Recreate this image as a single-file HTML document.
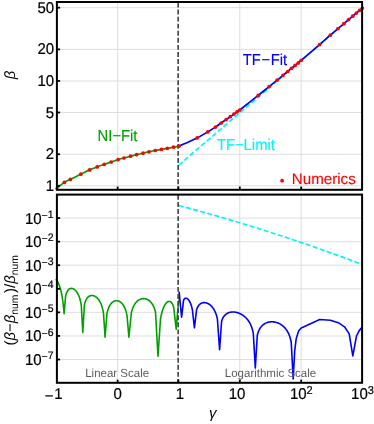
<!DOCTYPE html><html><head><meta charset="utf-8"><style>html,body{margin:0;padding:0;background:#fff}svg{display:block;will-change:transform;opacity:0.999}text{text-rendering:geometricPrecision;font-family:"Liberation Sans",sans-serif}</style></head><body><svg width="374" height="424" viewBox="0 0 374 424">
<rect width="374" height="424" fill="#fff"/>
<line x1="117.65" y1="2.0" x2="117.65" y2="189.8" stroke="#dadada" stroke-width="0.9"/>
<line x1="117.65" y1="194.6" x2="117.65" y2="382.8" stroke="#dadada" stroke-width="0.9"/>
<line x1="239.80" y1="2.0" x2="239.80" y2="189.8" stroke="#dadada" stroke-width="0.9"/>
<line x1="239.80" y1="194.6" x2="239.80" y2="382.8" stroke="#dadada" stroke-width="0.9"/>
<line x1="301.20" y1="2.0" x2="301.20" y2="189.8" stroke="#dadada" stroke-width="0.9"/>
<line x1="301.20" y1="194.6" x2="301.20" y2="382.8" stroke="#dadada" stroke-width="0.9"/>
<line x1="56.9" y1="185.80" x2="362.1" y2="185.80" stroke="#dadada" stroke-width="0.9"/>
<line x1="56.9" y1="154.24" x2="362.1" y2="154.24" stroke="#dadada" stroke-width="0.9"/>
<line x1="56.9" y1="112.51" x2="362.1" y2="112.51" stroke="#dadada" stroke-width="0.9"/>
<line x1="56.9" y1="80.95" x2="362.1" y2="80.95" stroke="#dadada" stroke-width="0.9"/>
<line x1="56.9" y1="49.39" x2="362.1" y2="49.39" stroke="#dadada" stroke-width="0.9"/>
<line x1="56.9" y1="7.66" x2="362.1" y2="7.66" stroke="#dadada" stroke-width="0.9"/>
<line x1="56.9" y1="359.51" x2="362.1" y2="359.51" stroke="#dadada" stroke-width="0.9"/>
<line x1="56.9" y1="335.94" x2="362.1" y2="335.94" stroke="#dadada" stroke-width="0.9"/>
<line x1="56.9" y1="312.37" x2="362.1" y2="312.37" stroke="#dadada" stroke-width="0.9"/>
<line x1="56.9" y1="288.80" x2="362.1" y2="288.80" stroke="#dadada" stroke-width="0.9"/>
<line x1="56.9" y1="265.23" x2="362.1" y2="265.23" stroke="#dadada" stroke-width="0.9"/>
<line x1="56.9" y1="241.66" x2="362.1" y2="241.66" stroke="#dadada" stroke-width="0.9"/>
<line x1="56.9" y1="218.09" x2="362.1" y2="218.09" stroke="#dadada" stroke-width="0.9"/>
<line x1="178.7" y1="165.1" x2="362.4" y2="8.0" stroke="#00f6fc" stroke-width="1.7" stroke-dasharray="5.0 2.375"/>
<path d="M56.90,188.10 C58.13,187.15 62.07,183.85 64.30,182.40 C66.53,180.95 67.55,180.77 70.30,179.40 C73.05,178.03 77.58,175.78 80.80,174.20 C84.02,172.62 86.87,171.12 89.60,169.90 C92.33,168.68 94.77,167.82 97.20,166.90 C99.63,165.98 101.88,165.22 104.20,164.40 C106.52,163.58 108.78,162.80 111.10,162.00 C113.42,161.20 115.97,160.27 118.10,159.60 C120.23,158.93 121.83,158.57 123.90,158.00 C125.97,157.43 128.38,156.75 130.50,156.20 C132.62,155.65 134.52,155.20 136.60,154.70 C138.68,154.20 140.93,153.68 143.00,153.20 C145.07,152.72 146.97,152.25 149.00,151.80 C151.03,151.35 153.13,150.90 155.20,150.50 C157.27,150.10 159.38,149.77 161.40,149.40 C163.42,149.03 165.28,148.67 167.30,148.30 C169.32,147.93 171.57,147.55 173.50,147.20 C175.43,146.85 178.00,146.37 178.90,146.20" fill="none" stroke="#00a000" stroke-width="1.7"/>
<path d="M178.90,146.20 C181.93,144.82 192.30,140.28 197.10,137.90 C201.90,135.52 204.65,133.70 207.70,131.90 C210.75,130.10 213.15,128.58 215.40,127.10 C217.65,125.62 219.40,124.25 221.20,123.00 C223.00,121.75 224.68,120.65 226.20,119.60 C227.72,118.55 229.02,117.62 230.30,116.70 C231.58,115.78 232.78,114.90 233.90,114.10 C235.02,113.30 236.03,112.58 237.00,111.90 C237.97,111.22 236.17,112.75 239.70,110.00 C243.23,107.25 253.30,99.30 258.20,95.40 C263.10,91.50 265.95,89.13 269.10,86.60 C272.25,84.07 274.80,82.07 277.10,80.20 C279.40,78.33 281.13,76.85 282.90,75.40 C284.67,73.95 286.27,72.68 287.70,71.50 C289.13,70.32 290.27,69.32 291.50,68.30 C292.73,67.28 293.97,66.30 295.10,65.40 C296.23,64.50 297.28,63.75 298.30,62.90 C299.32,62.05 297.65,63.35 301.20,60.30 C304.75,57.25 314.75,48.78 319.60,44.60 C324.45,40.42 327.23,37.87 330.30,35.20 C333.37,32.53 335.73,30.52 338.00,28.60 C340.27,26.68 342.13,25.20 343.90,23.70 C345.67,22.20 347.13,20.85 348.60,19.60 C350.07,18.35 351.40,17.28 352.70,16.20 C354.00,15.12 355.25,14.07 356.40,13.10 C357.55,12.13 358.60,11.25 359.60,10.40 C360.60,9.55 361.93,8.40 362.40,8.00" fill="none" stroke="#0000fa" stroke-width="1.7"/>
<polyline points="178.80,205.50 183.37,206.71 187.94,207.94 192.51,209.18 197.08,210.44 201.65,211.70 206.22,212.98 210.79,214.27 215.36,215.58 219.93,216.90 224.50,218.23 229.07,219.57 233.64,220.93 238.21,222.30 242.78,223.69 247.35,225.08 251.92,226.49 256.49,227.91 261.06,229.35 265.63,230.80 270.20,232.26 274.77,233.74 279.34,235.22 283.91,236.72 288.48,238.24 293.05,239.76 297.62,241.30 302.19,242.86 306.76,244.42 311.33,246.00 315.90,247.59 320.47,249.20 325.04,250.82 329.61,252.45 334.18,254.09 338.75,255.75 343.32,257.42 347.89,259.10 352.46,260.80 357.03,262.51 361.60,264.23" fill="none" stroke="#00f6fc" stroke-width="1.7" stroke-dasharray="5.0 2.375"/>
<polyline points="55.90,279.00 57.50,281.30 59.00,284.60 60.50,289.00 61.80,294.50 62.80,301.00 63.50,307.00 64.10,313.60 65.60,296.13 65.86,295.02 66.12,294.10 66.38,293.31 66.65,292.63 66.91,292.03 67.17,291.51 67.43,291.06 67.69,290.65 67.95,290.29 68.22,289.98 68.48,289.70 68.74,289.45 69.00,289.24 69.26,289.05 69.52,288.90 69.79,288.76 70.05,288.65 70.31,288.56 70.57,288.49 70.83,288.44 71.09,288.41 71.36,288.40 71.62,288.41 71.88,288.43 72.14,288.47 72.40,288.53 72.66,288.60 72.93,288.69 73.19,288.79 73.45,288.91 73.71,289.05 73.97,289.21 74.23,289.38 74.50,289.56 74.76,289.77 75.02,289.99 75.28,290.23 75.54,290.49 75.80,290.76 76.07,291.06 76.33,291.38 76.59,291.72 76.85,292.08 77.11,292.47 77.38,292.89 77.64,293.33 77.90,293.81 78.16,294.32 78.42,294.87 78.68,295.45 78.94,296.09 79.21,296.77 79.47,297.52 79.73,298.33 79.99,299.22 80.25,300.20 80.52,301.30 80.78,302.53 81.04,303.94 81.30,305.58 82.80,332.50 84.40,304.93 84.72,303.58 85.04,302.47 85.35,301.53 85.67,300.72 85.99,300.02 86.31,299.40 86.63,298.86 86.95,298.38 87.26,297.95 87.58,297.58 87.90,297.24 88.22,296.94 88.54,296.68 88.86,296.45 89.17,296.25 89.49,296.08 89.81,295.93 90.13,295.80 90.45,295.70 90.77,295.62 91.08,295.56 91.40,295.52 91.72,295.50 92.04,295.50 92.36,295.52 92.68,295.55 92.99,295.61 93.31,295.68 93.63,295.76 93.95,295.87 94.27,295.99 94.59,296.13 94.90,296.29 95.22,296.47 95.54,296.66 95.86,296.87 96.18,297.10 96.50,297.36 96.81,297.63 97.13,297.92 97.45,298.24 97.77,298.58 98.09,298.95 98.41,299.34 98.72,299.76 99.04,300.21 99.36,300.70 99.68,301.22 100.00,301.79 100.32,302.39 100.63,303.05 100.95,303.77 101.27,304.55 101.59,305.41 101.91,306.35 102.23,307.40 102.54,308.59 102.86,309.94 103.18,311.50 103.50,313.35 105.10,337.20 106.90,314.00 107.24,312.40 107.57,311.04 107.91,309.88 108.25,308.86 108.58,307.96 108.92,307.16 109.26,306.44 109.59,305.79 109.93,305.20 110.27,304.67 110.60,304.19 110.94,303.75 111.28,303.35 111.61,302.98 111.95,302.65 112.29,302.36 112.62,302.09 112.96,301.84 113.30,301.63 113.63,301.44 113.97,301.27 114.31,301.13 114.64,301.00 114.98,300.90 115.32,300.82 115.65,300.76 115.99,300.72 116.33,300.70 116.66,300.70 117.00,300.72 117.34,300.76 117.67,300.82 118.01,300.90 118.35,300.99 118.68,301.11 119.02,301.25 119.36,301.41 119.69,301.59 120.03,301.79 120.37,302.02 120.70,302.27 121.04,302.55 121.38,302.85 121.71,303.18 122.05,303.54 122.39,303.94 122.72,304.36 123.06,304.83 123.40,305.33 123.73,305.89 124.07,306.49 124.41,307.15 124.74,307.87 125.08,308.66 125.42,309.55 125.75,310.53 126.09,311.64 126.43,312.90 126.76,314.36 127.10,316.09 128.90,337.20 131.40,312.50 131.80,310.99 132.20,309.69 132.61,308.55 133.01,307.55 133.41,306.64 133.81,305.83 134.21,305.09 134.61,304.42 135.02,303.81 135.42,303.25 135.82,302.74 136.22,302.27 136.62,301.83 137.02,301.44 137.43,301.07 137.83,300.74 138.23,300.43 138.63,300.16 139.03,299.90 139.43,299.68 139.84,299.47 140.24,299.29 140.64,299.14 141.04,299.00 141.44,298.88 141.84,298.79 142.25,298.71 142.65,298.65 143.05,298.62 143.45,298.60 143.85,298.60 144.25,298.63 144.66,298.67 145.06,298.73 145.46,298.81 145.86,298.91 146.26,299.03 146.66,299.18 147.06,299.34 147.47,299.53 147.87,299.74 148.27,299.98 148.67,300.24 149.07,300.53 149.47,300.85 149.88,301.20 150.28,301.58 150.68,302.00 151.08,302.45 151.48,302.95 151.88,303.49 152.29,304.09 152.69,304.74 153.09,305.46 153.49,306.25 153.89,307.13 154.29,308.12 154.70,309.24 155.10,310.51 155.50,311.99 158.00,356.30 160.50,318.75 160.72,317.53 160.94,316.42 161.16,315.38 161.38,314.42 161.60,313.53 161.82,312.69 162.04,311.91 162.26,311.17 162.48,310.48 162.70,309.82 162.92,309.20 163.14,308.62 163.36,308.07 163.58,307.54 163.80,307.05 164.02,306.58 164.24,306.13 164.46,305.71 164.68,305.31 164.90,304.93 165.12,304.58 165.34,304.25 165.56,303.93 165.78,303.64 166.00,303.36 166.22,303.10 166.44,302.86 166.66,302.64 166.88,302.44 167.10,302.25 167.32,302.09 167.54,301.94 167.76,301.81 167.98,301.69 168.20,301.60 168.42,301.52 168.64,301.46 168.86,301.42 169.08,301.40 169.30,301.40 169.52,301.42 169.74,301.46 169.96,301.52 170.18,301.61 170.40,301.71 170.62,301.84 170.84,302.00 171.06,302.18 171.28,302.39 171.50,302.63 171.72,302.90 171.94,303.20 172.16,303.54 172.38,303.92 172.60,304.34 172.82,304.81 173.04,305.34 173.26,305.92 173.48,306.56 173.70,307.29 176.20,329.10 177.60,312.00 179.00,299.50" fill="none" stroke="#00a000" stroke-width="1.6" stroke-linejoin="round"/>
<polyline points="179.10,291.60 181.60,317.10 183.60,300.20 183.75,299.90 183.89,299.64 184.04,299.40 184.19,299.19 184.33,299.01 184.48,298.85 184.63,298.71 184.77,298.59 184.92,298.49 185.07,298.41 185.21,298.34 185.36,298.28 185.51,298.24 185.65,298.22 185.80,298.20 185.95,298.20 186.09,298.21 186.24,298.23 186.39,298.26 186.53,298.31 186.68,298.36 186.83,298.42 186.97,298.50 187.12,298.58 187.27,298.67 187.41,298.77 187.56,298.89 187.71,299.01 187.85,299.14 188.00,299.28 188.15,299.43 188.29,299.59 188.44,299.76 188.59,299.95 188.73,300.14 188.88,300.34 189.03,300.55 189.17,300.77 189.32,301.01 189.47,301.26 189.61,301.52 189.76,301.79 189.91,302.07 190.05,302.37 190.20,302.68 190.35,303.01 190.49,303.35 190.64,303.72 190.79,304.10 190.93,304.49 191.08,304.91 191.23,305.36 191.37,305.82 191.52,306.31 191.67,306.83 191.81,307.39 191.96,307.97 192.11,308.60 192.25,309.27 192.40,309.99 194.40,327.80 196.60,309.67 196.95,308.69 197.29,307.85 197.64,307.14 197.99,306.51 198.33,305.96 198.68,305.48 199.03,305.06 199.37,304.68 199.72,304.35 200.07,304.05 200.41,303.79 200.76,303.56 201.11,303.36 201.45,303.19 201.80,303.04 202.15,302.92 202.49,302.82 202.84,302.74 203.19,302.68 203.53,302.63 203.88,302.61 204.23,302.60 204.57,302.61 204.92,302.64 205.27,302.68 205.61,302.74 205.96,302.81 206.31,302.90 206.65,303.01 207.00,303.13 207.35,303.26 207.69,303.42 208.04,303.58 208.39,303.77 208.73,303.97 209.08,304.19 209.43,304.42 209.77,304.67 210.12,304.94 210.47,305.23 210.81,305.54 211.16,305.88 211.51,306.23 211.85,306.61 212.20,307.01 212.55,307.44 212.89,307.90 213.24,308.39 213.59,308.92 213.93,309.48 214.28,310.09 214.63,310.75 214.97,311.46 215.32,312.23 215.67,313.07 216.01,313.99 216.36,315.02 216.71,316.17 217.05,317.46 217.40,318.96 219.60,349.80 221.60,321.29 222.13,319.72 222.66,318.48 223.19,317.48 223.71,316.63 224.24,315.92 224.77,315.31 225.30,314.78 225.83,314.32 226.35,313.93 226.88,313.58 227.41,313.28 227.94,313.02 228.47,312.79 229.00,312.60 229.53,312.44 230.05,312.31 230.58,312.20 231.11,312.12 231.64,312.06 232.17,312.02 232.69,312.00 233.22,312.00 233.75,312.03 234.28,312.07 234.81,312.12 235.34,312.20 235.87,312.29 236.39,312.40 236.92,312.53 237.45,312.68 237.98,312.84 238.51,313.02 239.03,313.22 239.56,313.44 240.09,313.68 240.62,313.93 241.15,314.21 241.68,314.50 242.21,314.82 242.73,315.16 243.26,315.52 243.79,315.91 244.32,316.33 244.85,316.77 245.38,317.25 245.90,317.76 246.43,318.30 246.96,318.89 247.49,319.53 248.02,320.21 248.55,320.95 249.07,321.76 249.60,322.65 250.13,323.63 250.66,324.73 251.19,325.95 251.72,327.36 252.24,328.99 252.77,330.94 253.30,333.34 255.30,367.90 257.30,335.31 257.87,333.25 258.43,331.63 259.00,330.29 259.56,329.18 260.12,328.22 260.69,327.38 261.25,326.65 261.82,326.01 262.38,325.44 262.95,324.93 263.51,324.48 264.08,324.08 264.64,323.72 265.21,323.39 265.77,323.11 266.34,322.86 266.91,322.64 267.47,322.45 268.04,322.28 268.60,322.15 269.17,322.03 269.73,321.94 270.30,321.87 270.86,321.83 271.43,321.80 271.99,321.80 272.56,321.82 273.12,321.86 273.69,321.91 274.25,321.99 274.81,322.09 275.38,322.20 275.94,322.34 276.51,322.50 277.07,322.68 277.64,322.88 278.20,323.10 278.77,323.35 279.33,323.62 279.90,323.91 280.46,324.23 281.03,324.58 281.59,324.96 282.16,325.36 282.73,325.81 283.29,326.28 283.86,326.80 284.42,327.36 284.99,327.98 285.55,328.64 286.12,329.37 286.68,330.17 287.25,331.05 287.81,332.03 288.38,333.13 288.94,334.37 289.50,335.80 290.07,337.48 290.63,339.51 291.20,342.05 293.20,379.00 294.70,351.00 296.20,338.70 298.60,331.00 301.20,327.90 319.70,319.50 330.40,320.20 338.30,322.70 344.50,326.80 349.20,333.90 352.80,355.90 356.50,336.00 359.20,330.60 362.00,327.40" fill="none" stroke="#0000fa" stroke-width="1.6" stroke-linejoin="round"/>
<line x1="178.15" y1="2.5" x2="178.15" y2="189.8" stroke="#404040" stroke-width="1.6" stroke-dasharray="4.9 2.17"/>
<line x1="178.15" y1="194.9" x2="178.15" y2="382.8" stroke="#404040" stroke-width="1.6" stroke-dasharray="4.9 2.18"/>
<circle cx="56.90" cy="188.40" r="1.5" fill="#ff0000"/>
<circle cx="64.30" cy="182.40" r="1.85" fill="#ff0000"/>
<circle cx="70.30" cy="179.40" r="1.85" fill="#ff0000"/>
<circle cx="80.80" cy="174.20" r="1.85" fill="#ff0000"/>
<circle cx="89.60" cy="169.90" r="1.85" fill="#ff0000"/>
<circle cx="97.20" cy="166.90" r="1.85" fill="#ff0000"/>
<circle cx="104.20" cy="164.40" r="1.85" fill="#ff0000"/>
<circle cx="111.10" cy="162.00" r="1.85" fill="#ff0000"/>
<circle cx="118.10" cy="159.60" r="1.85" fill="#ff0000"/>
<circle cx="123.90" cy="158.00" r="1.85" fill="#ff0000"/>
<circle cx="130.50" cy="156.20" r="1.85" fill="#ff0000"/>
<circle cx="136.60" cy="154.70" r="1.85" fill="#ff0000"/>
<circle cx="143.00" cy="153.20" r="1.85" fill="#ff0000"/>
<circle cx="149.00" cy="151.80" r="1.85" fill="#ff0000"/>
<circle cx="155.20" cy="150.50" r="1.85" fill="#ff0000"/>
<circle cx="161.40" cy="149.40" r="1.85" fill="#ff0000"/>
<circle cx="167.30" cy="148.30" r="1.85" fill="#ff0000"/>
<circle cx="173.50" cy="147.20" r="1.85" fill="#ff0000"/>
<circle cx="178.90" cy="146.20" r="1.85" fill="#ff0000"/>
<circle cx="197.10" cy="137.90" r="1.85" fill="#ff0000"/>
<circle cx="207.70" cy="131.90" r="1.85" fill="#ff0000"/>
<circle cx="215.40" cy="127.10" r="1.85" fill="#ff0000"/>
<circle cx="221.20" cy="123.00" r="1.85" fill="#ff0000"/>
<circle cx="226.20" cy="119.60" r="1.85" fill="#ff0000"/>
<circle cx="230.30" cy="116.70" r="1.85" fill="#ff0000"/>
<circle cx="233.90" cy="114.10" r="1.85" fill="#ff0000"/>
<circle cx="237.00" cy="111.90" r="1.85" fill="#ff0000"/>
<circle cx="239.70" cy="110.00" r="1.85" fill="#ff0000"/>
<circle cx="258.20" cy="95.40" r="1.85" fill="#ff0000"/>
<circle cx="269.10" cy="86.60" r="1.85" fill="#ff0000"/>
<circle cx="277.10" cy="80.20" r="1.85" fill="#ff0000"/>
<circle cx="282.90" cy="75.40" r="1.85" fill="#ff0000"/>
<circle cx="287.70" cy="71.50" r="1.85" fill="#ff0000"/>
<circle cx="291.50" cy="68.30" r="1.85" fill="#ff0000"/>
<circle cx="295.10" cy="65.40" r="1.85" fill="#ff0000"/>
<circle cx="298.30" cy="62.90" r="1.85" fill="#ff0000"/>
<circle cx="301.20" cy="60.30" r="1.85" fill="#ff0000"/>
<circle cx="319.60" cy="44.60" r="1.85" fill="#ff0000"/>
<circle cx="330.30" cy="35.20" r="1.85" fill="#ff0000"/>
<circle cx="338.00" cy="28.60" r="1.85" fill="#ff0000"/>
<circle cx="343.90" cy="23.70" r="1.85" fill="#ff0000"/>
<circle cx="348.60" cy="19.60" r="1.85" fill="#ff0000"/>
<circle cx="352.70" cy="16.20" r="1.85" fill="#ff0000"/>
<circle cx="356.40" cy="13.10" r="1.85" fill="#ff0000"/>
<circle cx="359.60" cy="10.40" r="1.85" fill="#ff0000"/>
<circle cx="362.40" cy="8.00" r="1.85" fill="#ff0000"/>
<rect x="56.9" y="2.0" width="305.20000000000005" height="187.8" fill="none" stroke="#000" stroke-width="2.0"/>
<rect x="56.9" y="194.6" width="305.20000000000005" height="188.20000000000002" fill="none" stroke="#000" stroke-width="2.0"/>
<line x1="56.9" y1="185.80" x2="60.1" y2="185.80" stroke="#000" stroke-width="1.8"/>
<line x1="56.9" y1="154.24" x2="60.1" y2="154.24" stroke="#000" stroke-width="1.8"/>
<line x1="56.9" y1="112.51" x2="60.1" y2="112.51" stroke="#000" stroke-width="1.8"/>
<line x1="56.9" y1="80.95" x2="60.1" y2="80.95" stroke="#000" stroke-width="1.8"/>
<line x1="56.9" y1="49.39" x2="60.1" y2="49.39" stroke="#000" stroke-width="1.8"/>
<line x1="56.9" y1="7.66" x2="60.1" y2="7.66" stroke="#000" stroke-width="1.8"/>
<line x1="56.9" y1="359.51" x2="60.1" y2="359.51" stroke="#000" stroke-width="1.8"/>
<line x1="56.9" y1="335.94" x2="60.1" y2="335.94" stroke="#000" stroke-width="1.8"/>
<line x1="56.9" y1="312.37" x2="60.1" y2="312.37" stroke="#000" stroke-width="1.8"/>
<line x1="56.9" y1="288.80" x2="60.1" y2="288.80" stroke="#000" stroke-width="1.8"/>
<line x1="56.9" y1="265.23" x2="60.1" y2="265.23" stroke="#000" stroke-width="1.8"/>
<line x1="56.9" y1="241.66" x2="60.1" y2="241.66" stroke="#000" stroke-width="1.8"/>
<line x1="56.9" y1="218.09" x2="60.1" y2="218.09" stroke="#000" stroke-width="1.8"/>
<line x1="117.65" y1="189.8" x2="117.65" y2="186.60000000000002" stroke="#000" stroke-width="1.8"/>
<line x1="117.65" y1="382.8" x2="117.65" y2="379.6" stroke="#000" stroke-width="1.8"/>
<line x1="178.40" y1="189.8" x2="178.40" y2="186.60000000000002" stroke="#000" stroke-width="1.8"/>
<line x1="178.40" y1="382.8" x2="178.40" y2="379.6" stroke="#000" stroke-width="1.8"/>
<line x1="239.80" y1="189.8" x2="239.80" y2="186.60000000000002" stroke="#000" stroke-width="1.8"/>
<line x1="239.80" y1="382.8" x2="239.80" y2="379.6" stroke="#000" stroke-width="1.8"/>
<line x1="301.20" y1="189.8" x2="301.20" y2="186.60000000000002" stroke="#000" stroke-width="1.8"/>
<line x1="301.20" y1="382.8" x2="301.20" y2="379.6" stroke="#000" stroke-width="1.8"/>
<text transform="translate(54.10,190.90) scale(1,1.04)" font-family="&quot;Liberation Sans&quot;, sans-serif" font-size="15.0" text-anchor="end" fill="#000" stroke="#000" stroke-width="0.2">1</text>
<text transform="translate(54.10,159.34) scale(1,1.04)" font-family="&quot;Liberation Sans&quot;, sans-serif" font-size="15.0" text-anchor="end" fill="#000" stroke="#000" stroke-width="0.2">2</text>
<text transform="translate(54.10,117.61) scale(1,1.04)" font-family="&quot;Liberation Sans&quot;, sans-serif" font-size="15.0" text-anchor="end" fill="#000" stroke="#000" stroke-width="0.2">5</text>
<text transform="translate(54.10,86.05) scale(1,1.04)" font-family="&quot;Liberation Sans&quot;, sans-serif" font-size="15.0" text-anchor="end" fill="#000" stroke="#000" stroke-width="0.2">10</text>
<text transform="translate(54.10,54.49) scale(1,1.04)" font-family="&quot;Liberation Sans&quot;, sans-serif" font-size="15.0" text-anchor="end" fill="#000" stroke="#000" stroke-width="0.2">20</text>
<text transform="translate(54.10,12.76) scale(1,1.04)" font-family="&quot;Liberation Sans&quot;, sans-serif" font-size="15.0" text-anchor="end" fill="#000" stroke="#000" stroke-width="0.2">50</text>
<text transform="translate(53.6,365.01) scale(1,1.04)" font-family="&quot;Liberation Sans&quot;, sans-serif" font-size="15.0" text-anchor="end" fill="#000" stroke="#000" stroke-width="0.2">10<tspan dy="-4.7" font-size="10.5">−</tspan><tspan dy="-1.0" font-size="10.5">7</tspan></text>
<text transform="translate(53.6,341.44) scale(1,1.04)" font-family="&quot;Liberation Sans&quot;, sans-serif" font-size="15.0" text-anchor="end" fill="#000" stroke="#000" stroke-width="0.2">10<tspan dy="-4.7" font-size="10.5">−</tspan><tspan dy="-1.0" font-size="10.5">6</tspan></text>
<text transform="translate(53.6,317.87) scale(1,1.04)" font-family="&quot;Liberation Sans&quot;, sans-serif" font-size="15.0" text-anchor="end" fill="#000" stroke="#000" stroke-width="0.2">10<tspan dy="-4.7" font-size="10.5">−</tspan><tspan dy="-1.0" font-size="10.5">5</tspan></text>
<text transform="translate(53.6,294.30) scale(1,1.04)" font-family="&quot;Liberation Sans&quot;, sans-serif" font-size="15.0" text-anchor="end" fill="#000" stroke="#000" stroke-width="0.2">10<tspan dy="-4.7" font-size="10.5">−</tspan><tspan dy="-1.0" font-size="10.5">4</tspan></text>
<text transform="translate(53.6,270.73) scale(1,1.04)" font-family="&quot;Liberation Sans&quot;, sans-serif" font-size="15.0" text-anchor="end" fill="#000" stroke="#000" stroke-width="0.2">10<tspan dy="-4.7" font-size="10.5">−</tspan><tspan dy="-1.0" font-size="10.5">3</tspan></text>
<text transform="translate(53.6,247.16) scale(1,1.04)" font-family="&quot;Liberation Sans&quot;, sans-serif" font-size="15.0" text-anchor="end" fill="#000" stroke="#000" stroke-width="0.2">10<tspan dy="-4.7" font-size="10.5">−</tspan><tspan dy="-1.0" font-size="10.5">2</tspan></text>
<text transform="translate(53.6,223.59) scale(1,1.04)" font-family="&quot;Liberation Sans&quot;, sans-serif" font-size="15.0" text-anchor="end" fill="#000" stroke="#000" stroke-width="0.2">10<tspan dy="-4.7" font-size="10.5">−</tspan><tspan dy="-1.0" font-size="10.5">1</tspan></text>
<text transform="translate(53.70,399.1) scale(1,1.04)" font-family="&quot;Liberation Sans&quot;, sans-serif" font-size="15.0" text-anchor="middle" fill="#000" stroke="#000" stroke-width="0.2"><tspan dy="1.6">−</tspan><tspan dy="-1.6" dx="0.9">1</tspan></text>
<text transform="translate(117.65,399.10) scale(1,1.04)" font-family="&quot;Liberation Sans&quot;, sans-serif" font-size="15.0" text-anchor="middle" fill="#000" stroke="#000" stroke-width="0.2">0</text>
<text transform="translate(179.80,399.10) scale(1,1.04)" font-family="&quot;Liberation Sans&quot;, sans-serif" font-size="15.0" text-anchor="middle" fill="#000" stroke="#000" stroke-width="0.2">1</text>
<text transform="translate(237.10,399.10) scale(1,1.04)" font-family="&quot;Liberation Sans&quot;, sans-serif" font-size="15.0" text-anchor="middle" fill="#000" stroke="#000" stroke-width="0.2">10</text>
<text transform="translate(301.30,399.10) scale(1,1.04)" font-family="&quot;Liberation Sans&quot;, sans-serif" font-size="15.0" text-anchor="middle" fill="#000" stroke="#000" stroke-width="0.2">10<tspan dy="-4.8" font-size="11">2</tspan></text>
<text transform="translate(362.50,399.10) scale(1,1.04)" font-family="&quot;Liberation Sans&quot;, sans-serif" font-size="15.0" text-anchor="middle" fill="#000" stroke="#000" stroke-width="0.2">10<tspan dy="-4.8" font-size="11">3</tspan></text>
<text x="212.7" y="417.6" font-family="&quot;Liberation Sans&quot;, sans-serif" font-size="15.0" font-style="italic" text-anchor="middle">γ</text>
<text transform="translate(15,75) rotate(-90)" font-family="&quot;Liberation Sans&quot;, sans-serif" font-size="15.0" font-style="italic" text-anchor="middle">β</text>
<text transform="translate(14.6,300.4) rotate(-90)" font-family="&quot;Liberation Sans&quot;, sans-serif" font-size="15.0" text-anchor="middle">(<tspan font-style="italic">β</tspan>−<tspan font-style="italic">β</tspan><tspan dy="3.2" font-size="10.3">num</tspan><tspan dy="-3.2" dx="1.6">)/</tspan><tspan font-style="italic">β</tspan><tspan dy="3.2" font-size="10.3">num</tspan></text>
<text transform="translate(97.60,140.60) scale(1,1.07)" font-family="&quot;Liberation Sans&quot;, sans-serif" font-size="14.8" fill="#00a000" stroke="#00a000" stroke-width="0.12">NI−Fit</text>
<text transform="translate(242.80,65.10) scale(1,1.07)" font-family="&quot;Liberation Sans&quot;, sans-serif" font-size="14.8" fill="#0000fa" stroke="#0000fa" stroke-width="0.12">TF<tspan dx="0.5">−</tspan><tspan dx="0.6">Fit</tspan></text>
<text transform="translate(216.90,149.80) scale(1,1.07)" font-family="&quot;Liberation Sans&quot;, sans-serif" font-size="14.8" fill="#00f6fc" stroke="#00f6fc" stroke-width="0.12">TF−Limit</text>
<text transform="translate(291.80,183.60) scale(1,1.01)" font-family="&quot;Liberation Sans&quot;, sans-serif" font-size="15.15" fill="#ff0000" stroke="#ff0000" stroke-width="0.12">Numerics</text>
<circle cx="282.1" cy="180.7" r="1.9" fill="#ff0000"/>
<text transform="translate(85.20,376.80) scale(1,1.03)" font-family="&quot;Liberation Sans&quot;, sans-serif" font-size="11.5" fill="#5c5c5c" stroke="#5c5c5c" stroke-width="0">Linear Scale</text>
<text transform="translate(224.80,376.80) scale(1,1.03)" font-family="&quot;Liberation Sans&quot;, sans-serif" font-size="11.5" fill="#5c5c5c" stroke="#5c5c5c" stroke-width="0">Logarithmic Scale</text>
</svg></body></html>
